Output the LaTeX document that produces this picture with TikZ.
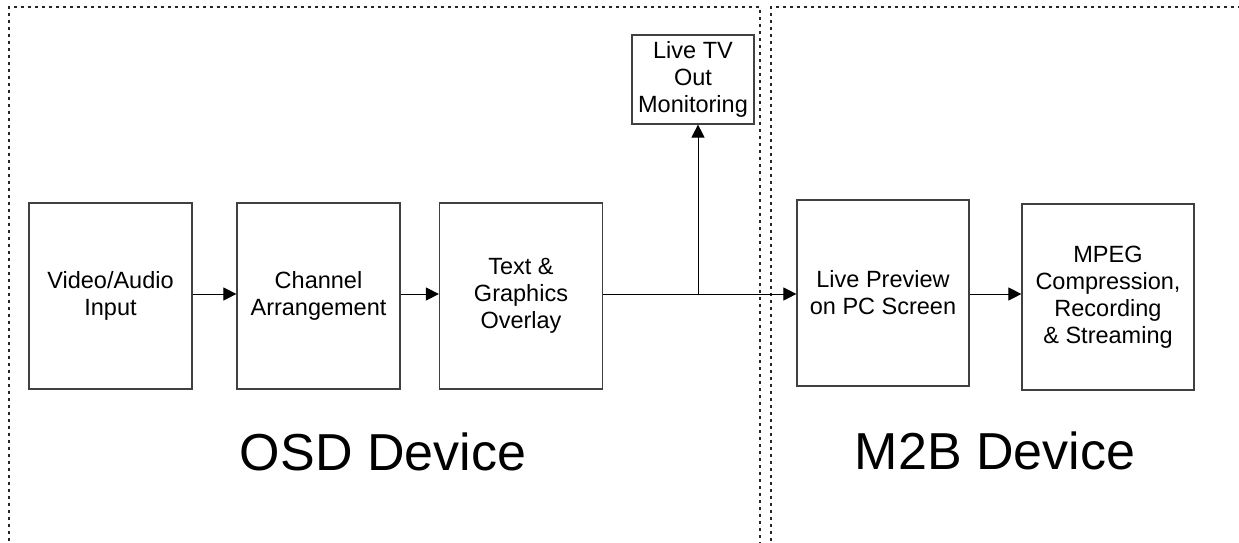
\documentclass[tikz,border=0pt]{standalone}
\usepackage{fontspec}
\setmainfont{Liberation Sans}
\usetikzlibrary{arrows.meta,positioning}

\begin{document}
\begin{tikzpicture}[x=1pt,y=-1pt,
  block/.style={draw=black!75,line width=1.2pt,minimum width=163pt,minimum height=186pt,
    inner sep=0pt,align=center,font=\fontsize{23.5}{27}\selectfont},
  zone/.style={draw=black!85,line width=1.2pt,dash pattern=on 3pt off 4pt},
  flow/.style={line width=1pt,-{Triangle[length=13pt,width=13pt]}},
  devname/.style={anchor=base,font=\fontsize{52}{60}\selectfont}]
\useasboundingbox (0,0) rectangle (1239,543);
% device areas
\draw[zone] (9,548) -- (9,7) -- (760,7) -- (760,548);
\draw[zone] (771,548) -- (771,7) -- (1245,7);
% OSD device
\node[block] (input) at (110.5,296) {Video/Audio\\Input};
\node[block] (chan) at (318.5,296) {Channel\\Arrangement};
\node[block] (overlay) at (521,296) {Text \&\\Graphics\\Overlay};
\node[block,minimum width=122pt,minimum height=89pt] (tvout) at (693,79.5) {Live TV\\Out\\Monitoring};
\node[devname] (osd) at (383,470) {OSD Device};
% M2B device
\node[block,minimum width=172pt] (preview) at (883,293) {Live Preview\\on PC Screen};
\node[block,minimum width=172pt] (mpeg) at (1108,297) {MPEG\\Compression,\\Recording\\\& Streaming};
\node[devname] (m2b) at (995,469) {M2B Device};
% signal path
\coordinate (split) at (698,294);
\draw[flow] (input.east |- split) -- (chan.west |- split);
\draw[flow] (chan.east |- split) -- (overlay.west |- split);
\draw[flow] (overlay.east |- split) -- (preview.west |- split);
\draw[flow] (split) -- (split |- tvout.south);
\draw[flow] (preview.east |- split) -- (mpeg.west |- split);
\end{tikzpicture}
\end{document}
